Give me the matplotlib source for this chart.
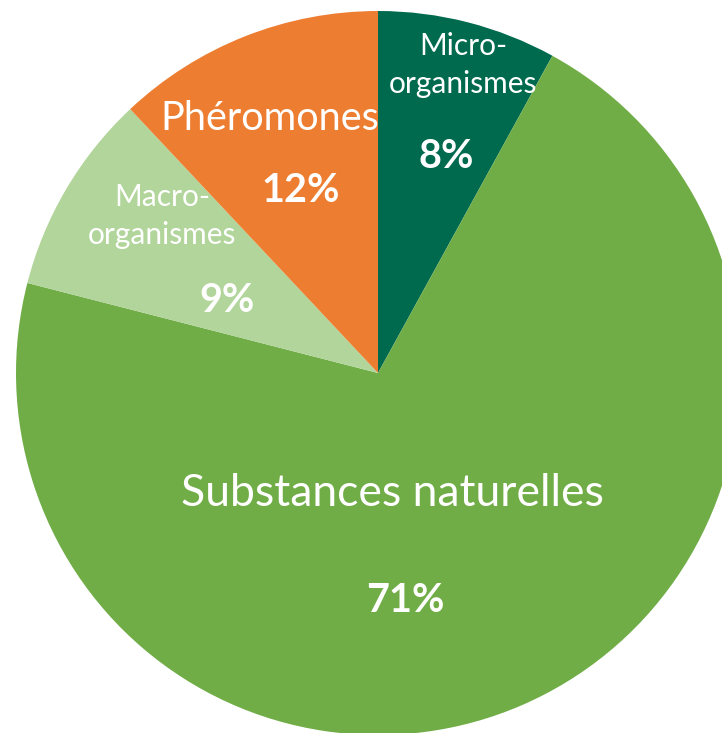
import matplotlib
matplotlib.use("Agg")
import matplotlib.pyplot as plt

# Répartition des produits de biocontrôle
categories = ["Micro-\norganismes", "Substances naturelles", "Macro-\norganismes", "Phéromones"]
parts = [8, 71, 9, 12]
couleurs = ["#006A4E", "#70AD47", "#B1D59A", "#ED7D31"]

plt.rcParams['font.family'] = ['Lato', 'DejaVu Sans']

W, H = 722, 733
fig = plt.figure(figsize=(W / 100, H / 100), dpi=100)
ax = fig.add_axes([0, 0, 1, 1])

centre = (378, H - 373)
ax.pie(parts, colors=couleurs, startangle=90, counterclock=False,
       center=centre, radius=362, frame=True,
       wedgeprops=dict(linewidth=0))
ax.set_xlim(0, W)
ax.set_ylim(0, H)
ax.set_aspect('equal')
ax.axis('off')

# positions des étiquettes (pixels image)
pos_nom = [(463, 65), (392, 493), (162, 216), (270, 118)]
pos_pct = [(446, 157), (405, 600), (227, 300), (301, 190)]
taille_nom = [21.5, 32, 21.5, 28.5]

for nom, p, (xn, yn), (xp, yp), t in zip(categories, parts, pos_nom, pos_pct, taille_nom):
    ax.text(xn, H - yn, nom, color="white", fontsize=t, ha="center", va="center",
            linespacing=1.45)
    ax.text(xp, H - yp, f"{p}%", color="white", fontsize=28.5, fontweight="bold",
            ha="center", va="center")

fig.savefig("out.png", dpi=100, facecolor="white")
